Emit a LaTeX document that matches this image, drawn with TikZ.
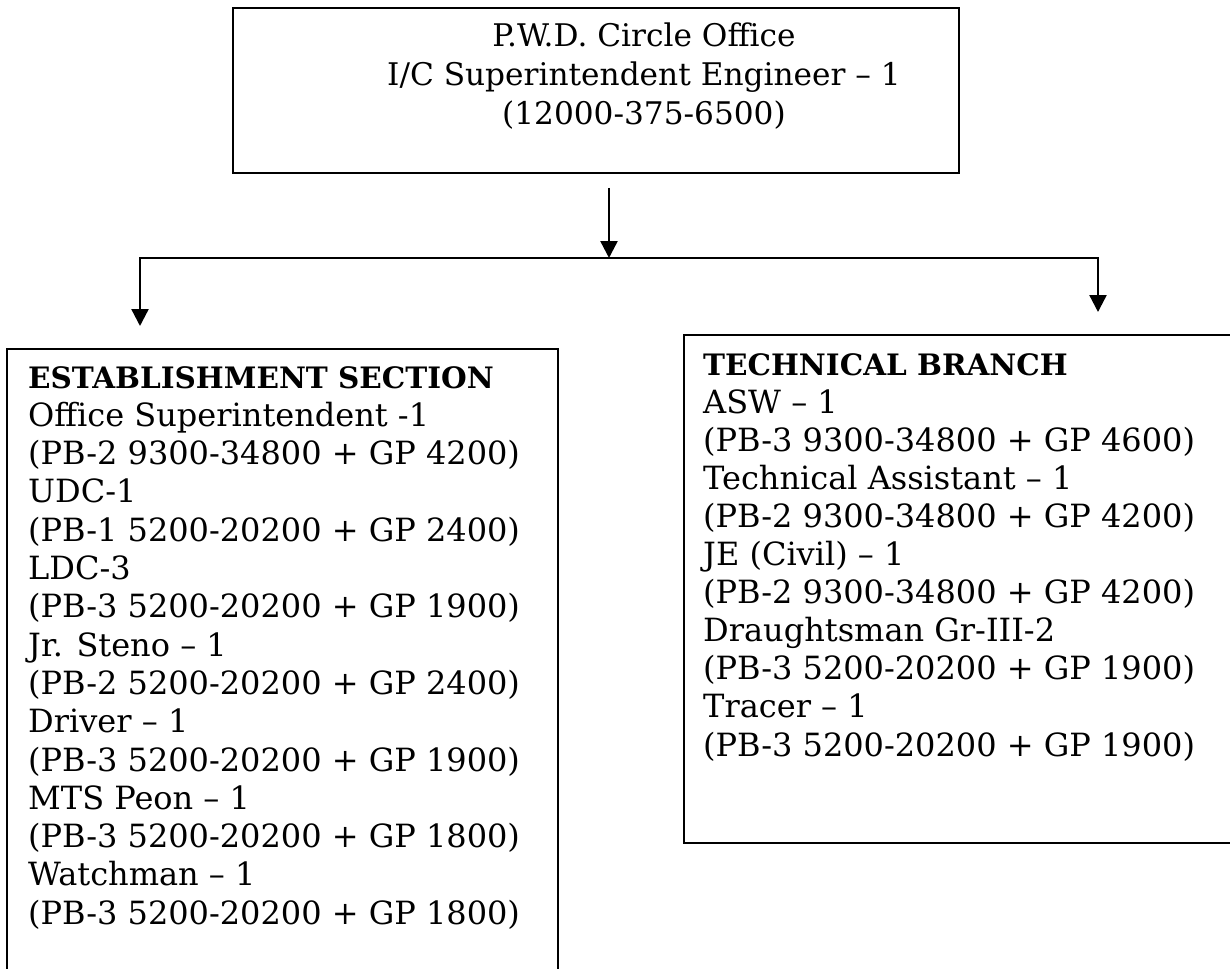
\documentclass[tikz,border=0pt]{standalone}
\usepackage{fontspec}
\setmainfont{DejaVu Serif}
\usetikzlibrary{arrows.meta}
\newcommand{\hdr}[1]{{\fontsize{29.5}{38}\selectfont\bfseries #1}}
\tikzset{
  boxline/.style={draw=black, line width=2pt, fill=none},
  conn/.style={draw=black, line width=2.4pt},
  arr/.style={conn, -{Triangle[width=17pt,length=17pt]}},
  txt/.style={inner sep=0pt, anchor=base west, font=\fontsize{32}{38}\selectfont},
  ctxt/.style={inner sep=0pt, anchor=base, font=\fontsize{31.2}{38}\selectfont},
}
\begin{document}
\begin{tikzpicture}[x=1pt,y=-1pt]
\useasboundingbox (0,0) rectangle (1230,968);
\clip (0,0) rectangle (1230,968);
% boxes
\node[boxline, anchor=north west, minimum width=726pt, minimum height=165pt, inner sep=0pt] (top) at (232,7) {};
\node[boxline, anchor=north west, minimum width=551pt, minimum height=700pt, inner sep=0pt] (left) at (6,348) {};
\node[boxline, anchor=north west, minimum width=600pt, minimum height=508pt, inner sep=0pt] (right) at (683,334) {};
% top text
\node[ctxt] (t1) at (644,47) {P.W.D. Circle Office};
\node[ctxt] (t2) at (644,86) {I/C Superintendent Engineer – 1};
\node[ctxt] (t3) at (644,125) {(12000-375-6500)};
% left text
\foreach \s [count=\i from 0] in {
  {\hdr{ESTABLISHMENT SECTION}},
  {Office Superintendent -1},
  {(PB-2 9300-34800 + GP 4200)},
  {UDC-1},
  {(PB-1 5200-20200 + GP 2400)},
  {LDC-3},
  {(PB-3 5200-20200 + GP 1900)},
  {Jr. Steno – 1},
  {(PB-2 5200-20200 + GP 2400)},
  {Driver – 1},
  {(PB-3 5200-20200 + GP 1900)},
  {MTS Peon – 1},
  {(PB-3 5200-20200 + GP 1800)},
  {Watchman – 1},
  {(PB-3 5200-20200 + GP 1800)}}
  \node[txt] (l\i) at (28,388+38.3*\i) {\s};
% right text
\foreach \s [count=\i from 0] in {
  {\hdr{TECHNICAL BRANCH}},
  {ASW – 1},
  {(PB-3 9300-34800 + GP 4600)},
  {Technical Assistant – 1},
  {(PB-2 9300-34800 + GP 4200)},
  {JE (Civil) – 1},
  {(PB-2 9300-34800 + GP 4200)},
  {Draughtsman Gr-III-2},
  {(PB-3 5200-20200 + GP 1900)},
  {Tracer – 1},
  {(PB-3 5200-20200 + GP 1900)}}
  \node[txt] (r\i) at (703,375+38.1*\i) {\s};
% connectors
\coordinate (c0) at (609,188);
\coordinate (c1) at (609,258);
\coordinate (hl) at (140,258);
\coordinate (hr) at (1098,258);
\coordinate (tl) at (140,326);
\coordinate (tr) at (1098,312);
\draw[arr] (c0) -- (c1);
\draw[conn, line cap=rect] (hl) -- (hr);
\draw[arr] (hl) -- (tl);
\draw[arr] (hr) -- (tr);
\end{tikzpicture}
\end{document}
